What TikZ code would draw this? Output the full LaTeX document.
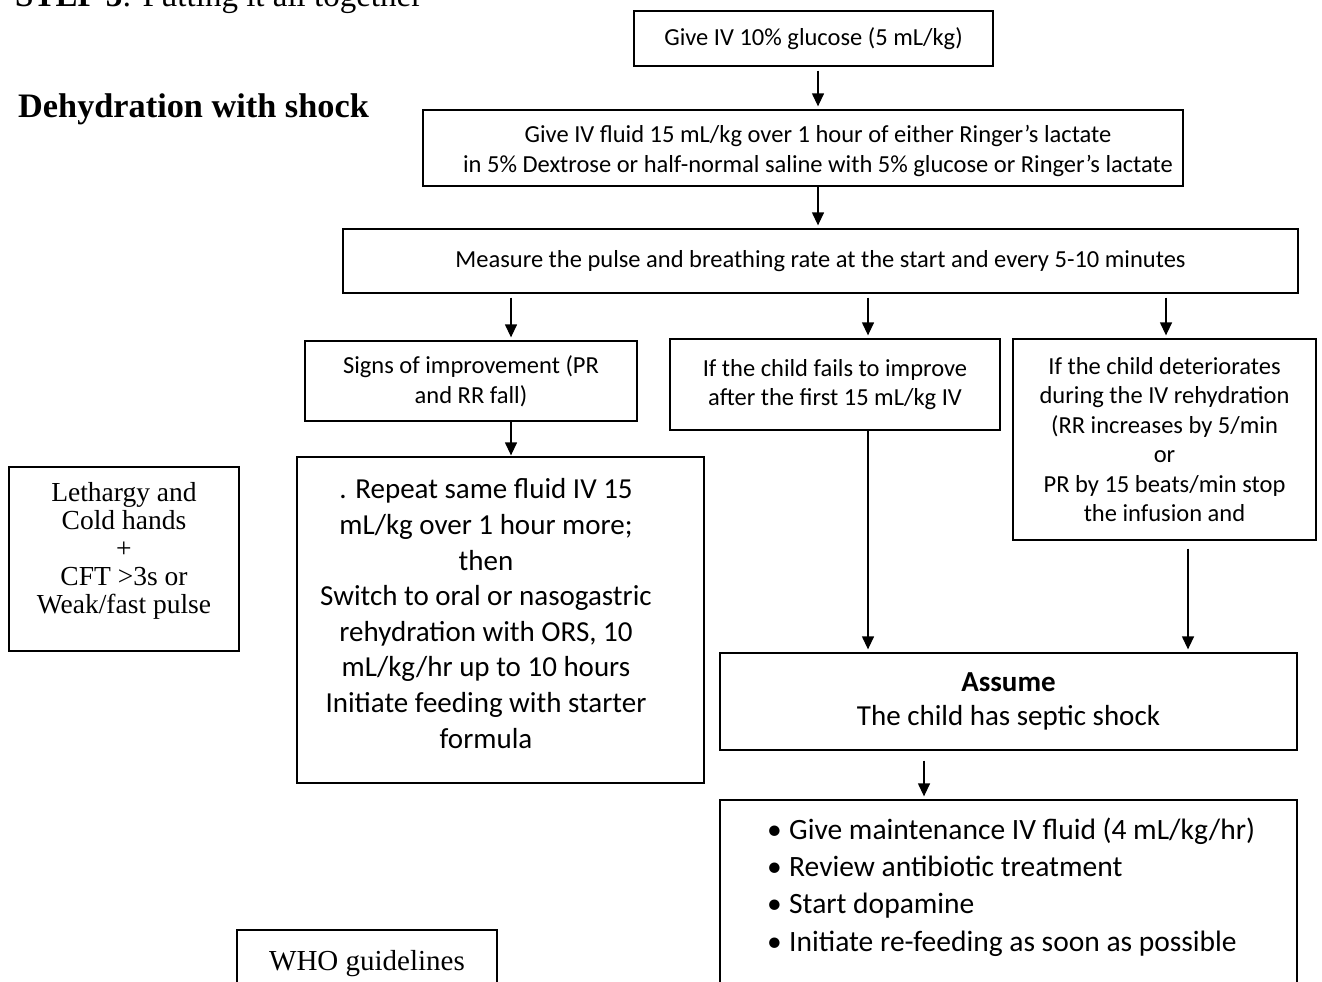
\documentclass[tikz,border=0pt]{standalone}
\usepackage{fontspec}
\setmainfont{Carlito}
\newfontfamily\docserif{Liberation Serif}
\usetikzlibrary{arrows.meta}
\begin{document}
\begin{tikzpicture}[x=1pt,y=-1pt,
  box/.style={draw, line width=1.3pt, inner sep=0pt, align=center},
  frame/.style={draw, line width=1.3pt, inner sep=0pt},
  heavy/.style={draw, line width=2.2pt, inner sep=0pt},
  txt/.style={inner sep=0pt, align=center},
  sm/.style={font=\fontsize{24.5}{29.5}\selectfont},
  lg/.style={font=\fontsize{29}{35.6}\selectfont},
  ser/.style={font=\docserif\fontsize{27.5}{28}\selectfont},
  arr/.style={line width=1.3pt, -{Triangle[length=13pt,width=12pt]}, shorten >=3pt},
]
\path[use as bounding box] (0,0) rectangle (1322,982);
\clip (0,0) rectangle (1322,982);
\fill[white] (0,0) rectangle (1322,982);

% headings
\node[inner sep=0pt, anchor=base west, font=\docserif\fontsize{33}{36}\selectfont] (step) at (15,7)
  {\textbf{STEP 3}: Putting it all together};
\node[inner sep=0pt, anchor=base west, font=\docserif\bfseries\fontsize{34.3}{37}\selectfont] (title) at (18,117)
  {Dehydration with shock};

% main column
\node[box, sm, minimum width=359, minimum height=55] (b1) at (813.5,38.5)
  {Give IV 10\% glucose (5 mL/kg)};
\node[frame, minimum width=760, minimum height=76] (b2) at (803,148) {};
\node[txt, sm] (b2t) at (818,151)
  {Give IV fluid 15 mL/kg over 1 hour of either Ringer's lactate\\
   in 5\% Dextrose or half-normal saline with 5\% glucose or Ringer's lactate};
\node[box, sm, minimum width=955, minimum height=64] (b3) at (820.5,261)
  {Measure the pulse and breathing rate at the start and every 5-10 minutes};

% three outcomes
\node[box, sm, minimum width=332, minimum height=80] (b4) at (471,381)
  {Signs of improvement (PR\\and RR fall)};
\node[box, sm, minimum width=330, minimum height=91] (b5) at (835,384.5)
  {If the child fails to improve\\after the first 15 mL/kg IV};
\node[box, sm, minimum width=303, minimum height=201] (b6) at (1164.5,439.5)
  {If the child deteriorates\\during the IV rehydration\\(RR increases by 5/min\\or\\PR by 15 beats/min stop\\the infusion and};

\node[frame, minimum width=407, minimum height=326] (b7) at (500.5,620) {};
\node[txt, lg] (b7t) at (486,613.5)
  {. Repeat same fluid IV 15\\mL/kg over 1 hour more;\\then\\Switch to oral or nasogastric\\rehydration with ORS, 10\\mL/kg/hr up to 10 hours\\Initiate feeding with starter\\formula};

\node[box, font=\fontsize{29}{34}\selectfont, minimum width=577, minimum height=97] (as) at (1008.5,701.5)
  {\textbf{Assume}\\The child has septic shock};

\node[frame, minimum width=577, minimum height=200] (bl) at (1008.5,900) {};
\node[inner sep=0pt, align=left, anchor=west, font=\fontsize{29.5}{37.3}\selectfont] (blt) at (767,887)
  {\makebox[22pt][l]{\textbullet}Give maintenance IV fluid (4 mL/kg/hr)\\
   \makebox[22pt][l]{\textbullet}Review antibiotic treatment\\
   \makebox[22pt][l]{\textbullet}Start dopamine\\
   \makebox[22pt][l]{\textbullet}Initiate re-feeding as soon as possible};

% side notes
\node[heavy, minimum width=230, minimum height=184] (lb) at (124,559) {};
\node[txt, ser] (lbt) at (124,551)
  {Lethargy and\\Cold hands\\+\\CFT >3s or\\Weak/fast pulse};
\node[heavy, minimum width=260, minimum height=80] (who) at (367,970) {};
\node[inner sep=0pt, anchor=base, font=\docserif\fontsize{29}{32}\selectfont] (whot) at (367,970)
  {WHO guidelines};

% connector x positions
\coordinate (xm) at (818,0);
\coordinate (xa) at (511,0);
\coordinate (xb) at (868,0);
\coordinate (xc) at (1166,0);
\coordinate (xd) at (1188,0);
\coordinate (xe) at (924,0);

\draw[arr, shorten <=4pt] (b1.south -| xm) -- (b2.north -| xm);
\draw[arr] (b2.south -| xm) -- (b3.north -| xm);
\draw[arr, shorten <=4pt] (b3.south -| xa) -- (b4.north -| xa);
\draw[arr, shorten <=4pt] (b3.south -| xb) -- (b5.north -| xb);
\draw[arr, shorten <=4pt] (b3.south -| xc) -- (b6.north -| xc);
\draw[arr, shorten >=1pt] (b4.south -| xa) -- (b7.north -| xa);
\draw[arr] (b5.south -| xb) -- (as.north -| xb);
\draw[arr, shorten <=8pt] (b6.south -| xd) -- (as.north -| xd);
\draw[arr, shorten <=10pt] (as.south -| xe) -- (bl.north -| xe);
\end{tikzpicture}
\end{document}
